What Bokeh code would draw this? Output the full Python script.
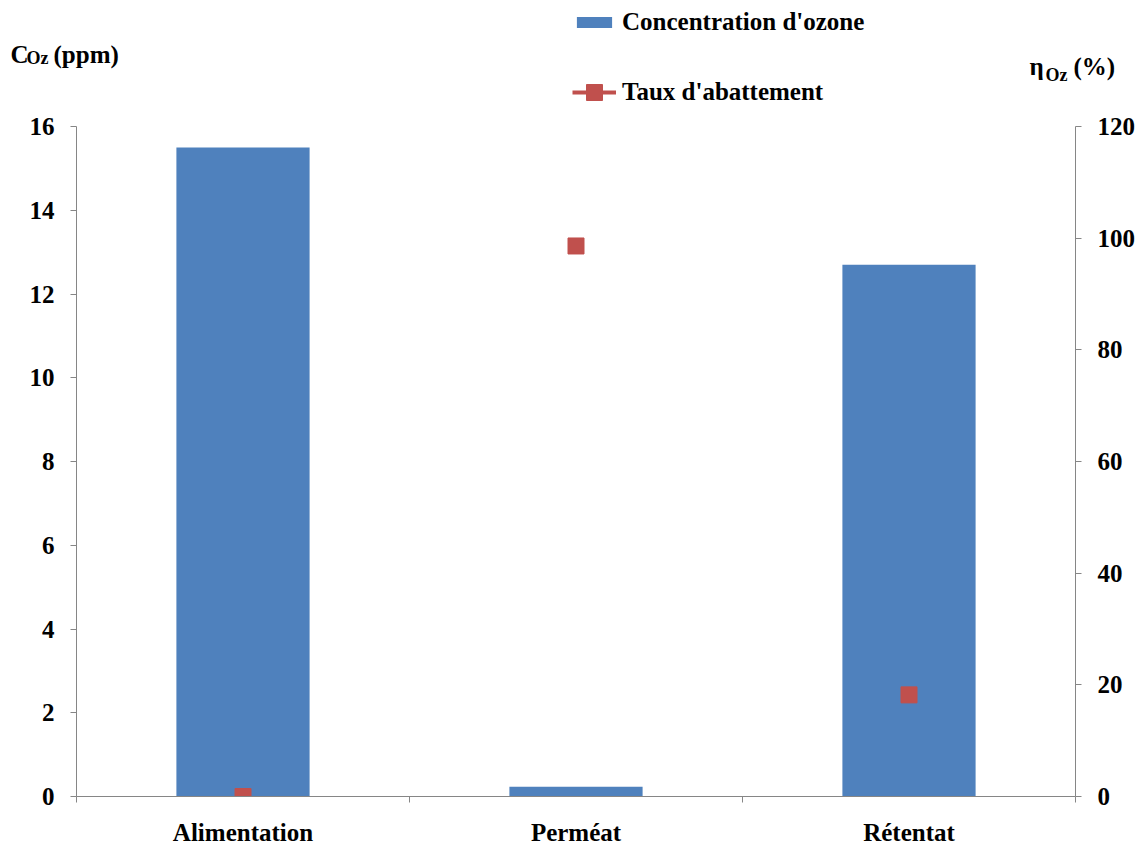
from bokeh.plotting import figure
from bokeh.layouts import column
from bokeh.models import (Range1d, LinearAxis, FixedTicker, Label, Legend, LegendItem,
                          ColumnDataSource)
from bokeh.embed import file_html
from bokeh.resources import INLINE

categories = ["Alimentation", "Perméat", "Rétentat"]
concentration = [15.5, 0.23, 12.7]      # ppm
abattement = [0.0, 98.6, 18.2]           # %

FONT = "Liberation Serif"
BAR = "#4F81BD"
RED = "#C0504D"
AX = "#868686"
W = 1144
H = 848
TOP_H = 112

xpos = [i + 0.5 for i in range(len(categories))]
src = ColumnDataSource(dict(x=xpos, c=concentration, a=abattement))

# ---------- header strip: legend + axis titles ----------
h = figure(width=W, height=TOP_H, output_backend="svg", toolbar_location=None,
           x_range=Range1d(0, 1), y_range=Range1d(0, 1),
           x_axis_type=None, y_axis_type=None,
           min_border_left=0, min_border_right=0, min_border_top=0, min_border_bottom=0)
h.frame_align = False
h.outline_line_color = None
h.grid.visible = False
lg_bar = h.vbar(x="x", top="c", width=0.4, source=src, fill_color=BAR, line_color=None,
                visible=False)
lg_line = h.line(x="x", y="a", source=src, line_color=RED, line_width=4, visible=False)
lg_pt = h.scatter(x="x", y="a", source=src, marker="square", size=16, fill_color=RED,
                  line_color=RED, visible=False)

common = dict(orientation="vertical",
              label_text_font=FONT, label_text_font_style="bold", label_text_font_size="25px",
              label_text_color="black", glyph_width=44, label_height=25,
              label_standoff=6, padding=0, margin=0, inactive_fill_alpha=0.0,
              border_line_color=None, background_fill_alpha=0)
legend1 = Legend(items=[LegendItem(label="Concentration d'ozone", renderers=[lg_bar])],
                 location=(572, 76), glyph_height=14, **common)
legend2 = Legend(items=[LegendItem(label="Taux d'abattement", renderers=[lg_line, lg_pt])],
                 location=(572, 0), glyph_height=40, **common)
h.add_layout(legend1, "center")
h.add_layout(legend2, "center")

def lab(text, x, y_page, size):
    h.add_layout(Label(x=x, y=TOP_H - y_page + 9, x_units="screen", y_units="screen", text=text,
                       text_font=FONT, text_font_style="bold", text_font_size=size,
                       text_color="black", text_baseline="alphabetic"))

lab("C", 10, 63, "25px")
lab("Oz", 26, 66, "18px")
lab("(ppm)", 53, 63, "25px")
lab("η", 1029, 75, "25px")
lab("Oz", 1045, 83, "18px")
lab("(%)", 1073, 75, "25px")

# ---------- main chart ----------
p = figure(width=W, height=H - TOP_H, output_backend="svg", toolbar_location=None,
           x_range=Range1d(0, len(categories)), y_range=Range1d(0, 16),
           min_border_left=76, min_border_right=W - 1075, min_border_top=126 - TOP_H,
           min_border_bottom=H - 797)
p.frame_align = False
p.outline_line_color = None
p.grid.visible = False
p.extra_y_ranges = {"pct": Range1d(0, 120)}

p.vbar(x="x", top="c", width=0.4, source=src, fill_color=BAR, line_color=None)
p.scatter(x="x", y="a", source=src, marker="square", size=16, fill_color=RED,
          line_color=RED, y_range_name="pct")

xa = p.xaxis[0]
xa.ticker = FixedTicker(ticks=xpos, minor_ticks=list(range(len(categories) + 1)))
xa.major_label_overrides = {x: c for x, c in zip(xpos, categories)}
xa.major_tick_out = 0
xa.major_tick_in = 0
xa.minor_tick_out = 6
xa.minor_tick_in = 0
xa.minor_tick_line_color = AX
xa.axis_line_color = AX
xa.major_label_standoff = 16
xa.major_label_text_font = FONT
xa.major_label_text_font_style = "bold"
xa.major_label_text_font_size = "25px"
xa.major_label_text_color = "black"

ya = p.yaxis[0]
ya.ticker = FixedTicker(ticks=list(range(0, 17, 2)))
ya2 = LinearAxis(y_range_name="pct", ticker=FixedTicker(ticks=list(range(0, 121, 20))))
p.add_layout(ya2, "right")
for ax in (ya, ya2):
    ax.major_tick_out = 6
    ax.major_tick_in = 0
    ax.minor_tick_out = 0
    ax.minor_tick_in = 0
    ax.axis_line_color = AX
    ax.major_tick_line_color = AX
    ax.major_label_standoff = 16
    ax.major_label_text_font = FONT
    ax.major_label_text_font_style = "bold"
    ax.major_label_text_font_size = "25px"
    ax.major_label_text_color = "black"

layout = column(h, p, spacing=0)
open("out.html", "w").write(file_html(layout, INLINE))
